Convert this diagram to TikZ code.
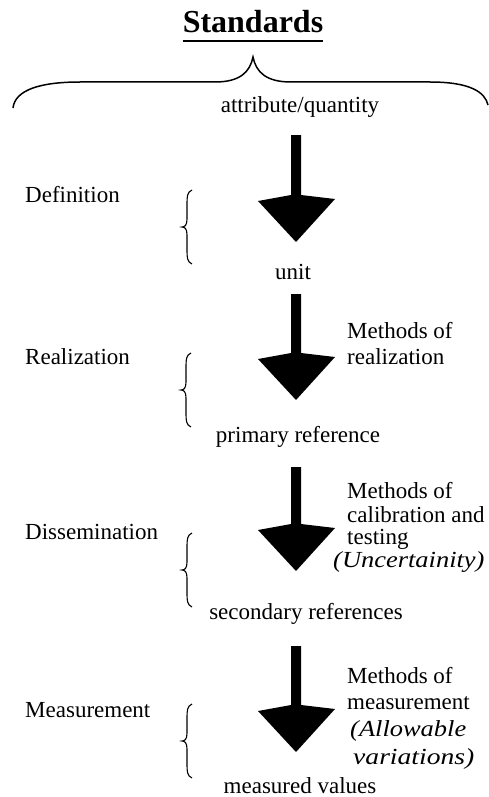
\documentclass[tikz,border=0pt]{standalone}
\usepackage{fontspec}
\usepackage{graphicx}
\setmainfont{Liberation Serif}
\begin{document}
\begin{tikzpicture}[x=1pt,y=-1pt,
  lbl/.style={inner sep=0pt, font=\fontsize{23}{27}\selectfont},
  brc/.style={line width=1.1pt},
  smallbrace/.pic={\draw[brc] (10,-37) .. controls (5,-35) and (5,-30) .. (5,-23) -- (5,-8) .. controls (5,-2) and (3,0) .. (0,0) .. controls (3,0) and (5,2) .. (5,8) -- (5,23) .. controls (5,30) and (5,35) .. (10,37);}]
\useasboundingbox (0,0) rectangle (488,797);

% title
\node[inner sep=0pt, font=\fontsize{32}{36}\selectfont\bfseries, anchor=base] (title) at (253,33) {Standards};
\draw[line width=2pt] ([yshift=-8pt]title.base west) -- ([yshift=-8pt]title.base east);

% big brace
\draw[line width=1.5pt] (13,108) .. controls (15,90) and (40,82) .. (80,82) -- (215,82)
  .. controls (240,82) and (250,72) .. (253,57)
  .. controls (256,72) and (266,82) .. (291,82) -- (430,82)
  .. controls (470,82) and (485,92) .. (488,105);

% centre texts
\node[lbl, anchor=base] (attr) at (300,113) {attribute/quantity};
\node[lbl, anchor=base] (unit) at (293,279) {unit};
\node[lbl, anchor=base] (prim) at (298,442) {primary reference};
\node[lbl, anchor=base] (sec) at (306,619) {secondary references};
\node[lbl, anchor=base] (meas) at (300,793) {measured values};

% arrows
\foreach \t/\c in {135/200,294/358,467/529,646/710}
  \fill (291,\t) -- (291,{\c-5}) -- (258,{\c+1}) -- (296,{\c+42}) -- (335,{\c-1}) -- (301,{\c-5}) -- (301,\t) -- cycle;

% left labels
\node[lbl, anchor=base west] (def) at (25,202) {Definition};
\node[lbl, anchor=base west] (real) at (25,364) {Realization};
\node[lbl, anchor=base west] (diss) at (25,539) {Dissemination};
\node[lbl, anchor=base west] (msr) at (25,717) {Measurement};

% small braces
\pic at (182,227) {smallbrace};
\pic at (181,390) {smallbrace};
\pic at (182,570) {smallbrace};
\pic at (182,741) {smallbrace};

% right texts
\node[lbl, anchor=base west] (r1a) at (347,338) {Methods of};
\node[lbl, anchor=base west] (r1b) at (347,364) {realization};

\node[lbl, anchor=base west] (r2a) at (347,498) {Methods of};
\node[lbl, anchor=base west] (r2b) at (347,522) {calibration and};
\node[lbl, anchor=base west] (r2c) at (347,544) {testing};
\node[lbl, anchor=base west] (r2d) at (333,567) {\scalebox{1.15}[1]{\itshape (Uncertainity)}};

\node[lbl, anchor=base west] (r3a) at (347,683) {Methods of};
\node[lbl, anchor=base west] (r3b) at (347,709) {measurement};
\node[lbl, anchor=base west] (r3c) at (350,736) {\scalebox{1.15}[1]{\itshape (Allowable}};
\node[lbl, anchor=base west] (r3d) at (353,764) {\scalebox{1.2}[1]{\itshape variations)}};
\end{tikzpicture}
\end{document}
